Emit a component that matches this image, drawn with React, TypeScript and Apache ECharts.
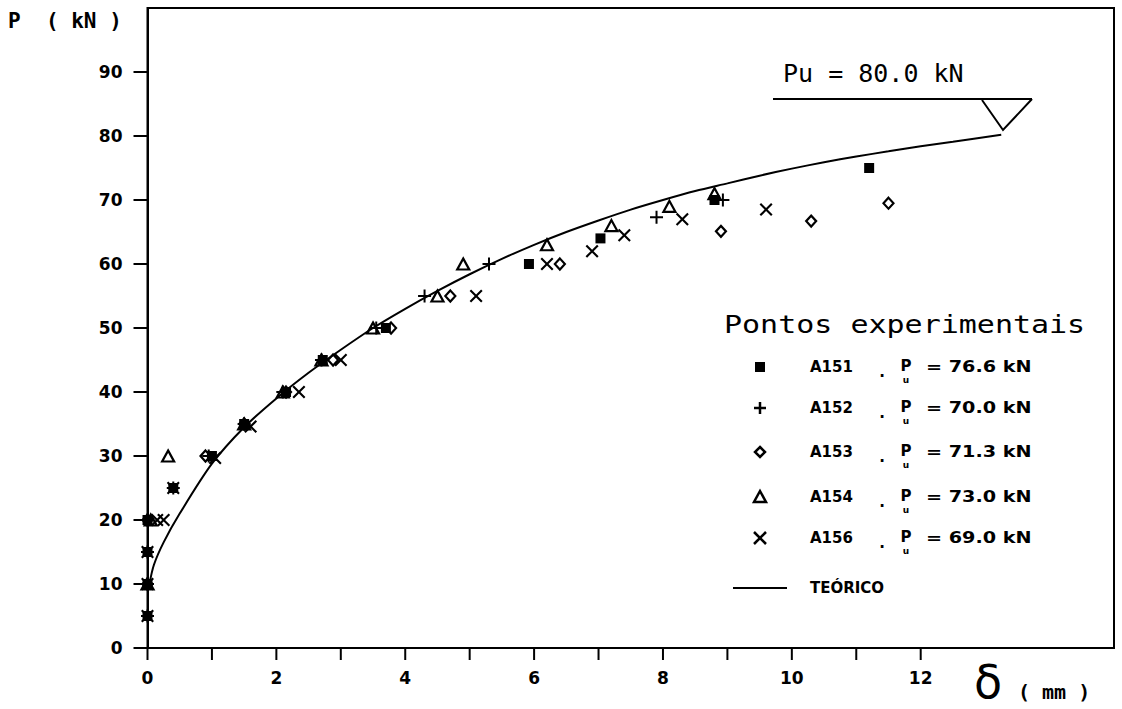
import React, { useEffect, useRef } from "react";
import * as echarts from "echarts";

// Theoretical curve (TEÓRICO)
const theoryX = [0.03, 0.1, 0.25, 0.5, 1.0, 1.5, 2.0, 2.5, 3.0, 3.5, 4.0, 4.5, 5.0, 5.5, 6.0, 6.5, 7.0, 7.5, 8.0, 8.5, 9.0, 9.5, 10.0, 10.5, 11.0, 11.5, 12.0, 12.5, 13.25];
const theoryY = [10, 13, 16.5, 21, 28.8, 34.5, 39, 43, 46.6, 50, 53, 55.8, 58.4, 60.8, 63, 65, 66.8, 68.5, 70, 71.4, 72.6, 73.8, 74.9, 75.9, 76.8, 77.6, 78.4, 79.1, 80.2];

// Experimental points [delta (mm), P (kN)]
const a151 = [[0, 5], [0, 10], [0, 15], [0, 20], [0.4, 25], [1.0, 30], [1.5, 35], [2.15, 40], [2.72, 45], [3.7, 50], [5.92, 60], [7.03, 64], [8.8, 70], [11.2, 75]];
const a152 = [[0, 5], [0, 10], [0, 15], [0, 20], [0.4, 25], [0.95, 30], [1.5, 35], [2.1, 40], [2.7, 45], [3.55, 50], [4.3, 55], [5.3, 60], [7.9, 67.3], [8.93, 70]];
const a153 = [[0, 10], [0, 20], [0.9, 30], [1.5, 35], [2.15, 40], [2.88, 45], [3.78, 50], [4.7, 55], [6.4, 60], [8.9, 65.1], [10.3, 66.7], [11.5, 69.5]];
const a154 = [[0, 10], [0.05, 20], [0.32, 30], [1.5, 35], [2.1, 40], [2.7, 45], [3.5, 50], [4.5, 55], [4.9, 60], [6.2, 63], [7.2, 66], [8.1, 69], [8.8, 71]];
const a156 = [[0, 5], [0, 10], [0, 15], [0.15, 20], [0.25, 20], [0.4, 25], [1.05, 29.7], [1.6, 34.6], [2.35, 40], [3.0, 45], [5.1, 55], [6.2, 60], [6.9, 62], [7.4, 64.5], [8.3, 67], [9.6, 68.5]];

const yTicks = [0, 10, 20, 30, 40, 50, 60, 70, 80, 90];
const xTicks = [0, 1, 2, 3, 4, 5, 6, 7, 8, 9, 10, 11, 12];
const xTickLabels = [0, 2, 4, 6, 8, 10, 12];

const legendNames = ["A151", "A152", "A153", "A154", "A156"];
const legendPu = ["76.6", "70.0", "71.3", "73.0", "69.0"];
const legendRowY = [367, 408, 452, 497, 538];

const PLUS = "path://M0,5.5 L13,5.5 L13,7.5 L0,7.5 Z M5.5,0 L7.5,0 L7.5,13 L5.5,13 Z";
const CROSS = "path://M0,1.5 L1.5,0 L6.5,5 L11.5,0 L13,1.5 L8,6.5 L13,11.5 L11.5,13 L6.5,8 L1.5,13 L0,11.5 L5,6.5 Z";

const W = 1122;
const H = 709;
const GL = 147.5, GR = 8, GT = 8, GB = 61;
const X_MAX = 15, Y_MAX = 100;

export default function App() {
  const ref = useRef<HTMLDivElement>(null);
  useEffect(() => {
    if (!ref.current) return;
    const chart = echarts.init(ref.current, null, { renderer: "svg" });
    const bold = { fontFamily: "DejaVu Sans", fontWeight: "bold" as const, fill: "#000" };
    const symX = 760;
    const legendGraphics: any[] = [];
    legendNames.forEach((n, i) => {
      const y = legendRowY[i];
      legendGraphics.push({ type: "text", x: 810, y: y, style: { ...bold, text: n, fontSize: 15, verticalAlign: "middle", align: "left" } });
      legendGraphics.push({ type: "text", x: 882, y: y + 5, style: { ...bold, text: ".", fontSize: 15, verticalAlign: "middle", align: "center" } });
      legendGraphics.push({ type: "text", x: 906, y: y - 1, style: { ...bold, text: "P", fontSize: 15, verticalAlign: "middle", align: "center" } });
      legendGraphics.push({ type: "text", x: 906, y: y + 13, style: { ...bold, text: "u", fontSize: 9, verticalAlign: "middle", align: "center" } });
      legendGraphics.push({ type: "text", x: 926, y: y, scaleX: 1.28, style: { ...bold, text: "= " + legendPu[i] + " kN", fontSize: 15, verticalAlign: "middle", align: "left" } });
    });
    legendGraphics.push({ type: "rect", shape: { x: symX - 5, y: legendRowY[0] - 5, width: 10, height: 10 }, style: { fill: "#000" } });
    legendGraphics.push({ type: "line", shape: { x1: symX - 6, y1: legendRowY[1], x2: symX + 6, y2: legendRowY[1] }, style: { stroke: "#000", lineWidth: 2.5 } });
    legendGraphics.push({ type: "line", shape: { x1: symX, y1: legendRowY[1] - 6, x2: symX, y2: legendRowY[1] + 6 }, style: { stroke: "#000", lineWidth: 2.5 } });
    legendGraphics.push({ type: "polygon", shape: { points: [[symX, legendRowY[2] - 5], [symX + 5, legendRowY[2]], [symX, legendRowY[2] + 5], [symX - 5, legendRowY[2]]] }, style: { fill: "none", stroke: "#000", lineWidth: 2.5 } });
    legendGraphics.push({ type: "polygon", shape: { points: [[symX, legendRowY[3] - 6], [symX + 6, legendRowY[3] + 5], [symX - 6, legendRowY[3] + 5]] }, style: { fill: "none", stroke: "#000", lineWidth: 2.5 } });
    legendGraphics.push({ type: "line", shape: { x1: symX - 6, y1: legendRowY[4] - 6, x2: symX + 6, y2: legendRowY[4] + 6 }, style: { stroke: "#000", lineWidth: 2.5 } });
    legendGraphics.push({ type: "line", shape: { x1: symX - 6, y1: legendRowY[4] + 6, x2: symX + 6, y2: legendRowY[4] - 6 }, style: { stroke: "#000", lineWidth: 2.5 } });
    legendGraphics.push({ type: "line", shape: { x1: 733, y1: 588, x2: 787, y2: 588 }, style: { stroke: "#000", lineWidth: 2 } });
    legendGraphics.push({ type: "text", x: 810, y: 588, style: { ...bold, text: "TEÓRICO", fontSize: 15, verticalAlign: "middle", align: "left" } });

    // axis ticks (outward), positioned on the grid's value scale
    const plotW = W - GL - GR;
    const plotH = H - GT - GB;
    const tickGraphics: any[] = [];
    xTicks.forEach((v) => {
      const px = GL + (v / X_MAX) * plotW;
      tickGraphics.push({ type: "rect", shape: { x: px - 1, y: H - GB, width: 2, height: 12 }, style: { fill: "#000" }, z: 50 });
    });
    yTicks.forEach((v) => {
      const py = H - GB - (v / Y_MAX) * plotH;
      tickGraphics.push({ type: "rect", shape: { x: GL - 14, y: py - 1, width: 14, height: 2 }, style: { fill: "#000" }, z: 50 });
    });

    const mkScatter = (name: string, data: number[][], symbol: string, size: any, hollow: boolean) => ({
      name,
      type: "scatter",
      data,
      symbol,
      symbolSize: size,
      itemStyle: hollow
        ? { color: "rgba(0,0,0,0)", borderColor: "#000", borderWidth: 2.2, opacity: 1 }
        : { color: "#000", opacity: 1 },
      z: 3,
    });

    const labelStyle = { color: "#000", fontFamily: "DejaVu Sans", fontWeight: "bold", fontSize: 17 };

    chart.setOption({
      animation: false,
      backgroundColor: "#fff",
      grid: { left: GL, right: GR, top: GT, bottom: GB, show: true, borderColor: "#000", borderWidth: 2, backgroundColor: "transparent" },
      xAxis: {
        type: "value",
        min: 0,
        max: X_MAX,
        interval: 1,
        axisLine: { show: true, onZero: false, lineStyle: { color: "#000", width: 2 } },
        axisTick: { show: false },
        splitLine: { show: false },
        axisLabel: { margin: 21, ...labelStyle, customValues: xTickLabels },
      },
      yAxis: {
        type: "value",
        min: 0,
        max: Y_MAX,
        interval: 10,
        axisLine: { show: true, onZero: false, lineStyle: { color: "#000", width: 2 } },
        axisTick: { show: false },
        splitLine: { show: false },
        axisLabel: { margin: 25, ...labelStyle, customValues: yTicks },
      },
      series: [
        {
          name: "TEÓRICO",
          type: "line",
          data: theoryX.map((x, i) => [x, theoryY[i]]),
          smooth: 0.3,
          showSymbol: false,
          symbol: "none",
          lineStyle: { color: "#000", width: 2 },
          z: 2,
        },
        mkScatter("A151", a151, "rect", 10, false),
        mkScatter("A152", a152, PLUS, 13, false),
        mkScatter("A153", a153, "diamond", [10, 11], true),
        mkScatter("A154", a154, "triangle", [12, 11], true),
        mkScatter("A156", a156, CROSS, 13, false),
      ],
      graphic: [
        { type: "text", x: 8, y: 21, style: { text: "P  ( kN )", fontFamily: "DejaVu Sans Mono", fontWeight: "bold", fontSize: 21, fill: "#000", verticalAlign: "middle" } },
        { type: "text", x: 988, y: 682, style: { text: "δ", fontFamily: "DejaVu Sans", fontSize: 46, fill: "#000", align: "center", verticalAlign: "middle" } },
        { type: "text", x: 1018, y: 692, style: { text: "( mm )", fontFamily: "DejaVu Sans Mono", fontWeight: "bold", fontSize: 20, fill: "#000", verticalAlign: "middle" } },
        { type: "text", x: 783, y: 73, style: { text: "Pu = 80.0 kN", fontFamily: "DejaVu Sans Mono", fontSize: 25, fill: "#000", verticalAlign: "middle" } },
        { type: "line", shape: { x1: 773, y1: 99, x2: 1032, y2: 99 }, style: { stroke: "#000", lineWidth: 2 } },
        { type: "polyline", shape: { points: [[982, 100], [1003, 130], [1032, 99]] }, style: { stroke: "#000", lineWidth: 2, fill: "none" } },
        { type: "text", x: 724, y: 324, scaleX: 1.2, style: { text: "Pontos experimentais", fontFamily: "DejaVu Sans Mono", fontSize: 25, fill: "#000", verticalAlign: "middle" } },
        ...legendGraphics,
        ...tickGraphics,
      ],
    });

    return () => chart.dispose();
  }, []);
  return <div ref={ref} style={{ position: "fixed", left: 0, top: 0, width: W, height: H }} />;
}
